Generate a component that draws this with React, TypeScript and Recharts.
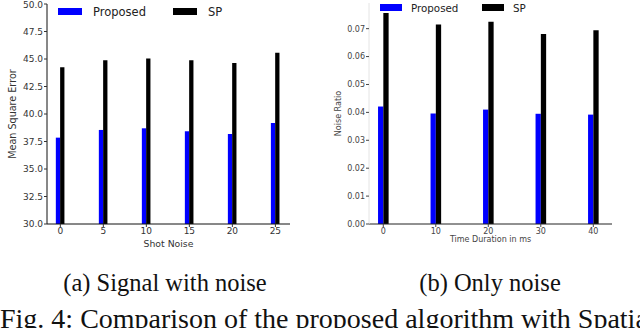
import { Bar, BarChart, Legend, XAxis, YAxis } from "recharts";

// (a) signal with noise
const shotNoise = [0, 5, 10, 15, 20, 25];
const mseProposed = [37.85, 38.55, 38.7, 38.43, 38.18, 39.18];
const mseSP = [44.25, 44.88, 45.05, 44.88, 44.63, 45.57];
const mseTicks = [30, 32.5, 35, 37.5, 40, 42.5, 45, 47.5, 50];

// (b) only noise
const durations = [0, 10, 20, 30, 40];
const ratioProposed = [0.0421, 0.0396, 0.041, 0.0395, 0.0392];
const ratioSP = [0.0756, 0.0715, 0.0725, 0.0681, 0.0694];
const ratioTicks = [0, 0.01, 0.02, 0.03, 0.04, 0.05, 0.06, 0.07];

const mseData = shotNoise.map((x, i) => ({ x, proposed: mseProposed[i], sp: mseSP[i] }));
const ratioData = durations.map((x, i) => ({ x, proposed: ratioProposed[i], sp: ratioSP[i] }));

const FONT = "DejaVu Sans";

const makeLegend =
  (o: { fontSize: number; patchW: number; patchH: number; gap: number; itemW: number }) =>
  (props: any) => (
    <div style={{ display: "flex", fontFamily: FONT, fontSize: o.fontSize, color: "#222", height: 15 }}>
      {(props.payload || []).map((entry: any) => (
        <div key={entry.value} style={{ display: "flex", alignItems: "center", width: o.itemW }}>
          <span
            style={{
              display: "inline-block",
              width: o.patchW,
              height: o.patchH,
              background: entry.color,
              marginRight: o.gap,
            }}
          />
          <span>{entry.value}</span>
        </div>
      ))}
    </div>
  );

const MseChart = () => (
  <BarChart
    width={320}
    height={250}
    data={mseData}
    margin={{ top: 4, right: 30, left: 0, bottom: 0 }}
    barGap={0}
    style={{ fontFamily: FONT }}
  >
    <XAxis
      dataKey="x"
      type="number"
      domain={[-1.55, 26.7]}
      allowDataOverflow
      ticks={shotNoise}
      height={26}
      tickSize={3}
      tickMargin={1}
      tick={{ fontSize: 9, fill: "#333" }}
      axisLine={{ stroke: "#111" }}
      tickLine={{ stroke: "#333" }}
      label={{ value: "Shot Noise", position: "insideBottom", offset: 3, fontSize: 9.3, fill: "#333" }}
    />
    <XAxis xAxisId="top" orientation="top" type="number" domain={[-1.55, 26.7]} height={0} tick={false} tickLine={false} axisLine={{ stroke: "#111" }} />
    <YAxis
      type="number"
      domain={[30, 50]}
      allowDataOverflow
      ticks={mseTicks}
      width={47}
      tickSize={3}
      tickMargin={1}
      tickFormatter={(v: number) => v.toFixed(1)}
      tick={{ fontSize: 9, fill: "#333" }}
      axisLine={{ stroke: "#111" }}
      tickLine={{ stroke: "#333" }}
      label={{
        value: "Mean Square Error",
        angle: -90,
        position: "insideLeft",
        offset: 13,
        fontSize: 9.6,
        fill: "#333",
        style: { textAnchor: "middle" },
      }}
    />
    <YAxis yAxisId="right" orientation="right" width={0} tick={false} tickLine={false} axisLine={{ stroke: "#111" }} />
    <Legend
      layout="horizontal"
      verticalAlign="middle"
      align="center"
      wrapperStyle={{ top: 4, left: 58, width: "auto", height: "auto" }}
      content={makeLegend({ fontSize: 11.5, patchW: 24, patchH: 7, gap: 11, itemW: 115 })}
    />
    <Bar dataKey="proposed" name="Proposed" fill="#0000ff" barSize={4.3} isAnimationActive={false} />
    <Bar dataKey="sp" name="SP" fill="#000000" barSize={4.3} isAnimationActive={false} />
  </BarChart>
);

const RatioChart = () => (
  <BarChart
    width={320}
    height={250}
    data={ratioData}
    margin={{ top: 3, right: 28, left: 0, bottom: 0 }}
    barGap={0}
    style={{ fontFamily: FONT }}
  >
    <XAxis
      dataKey="x"
      type="number"
      domain={[-2.72, 43.56]}
      allowDataOverflow
      ticks={durations}
      height={26}
      tickSize={3}
      tickMargin={1}
      tick={{ fontSize: 8, fill: "#444" }}
      axisLine={{ stroke: "#222" }}
      tickLine={{ stroke: "#444" }}
      label={{ value: "Time Duration in ms", position: "insideBottom", offset: 8, fontSize: 8, fill: "#444" }}
    />
    <XAxis xAxisId="top" orientation="top" type="number" domain={[-2.72, 43.56]} height={0} tick={false} tickLine={false} axisLine={{ stroke: "#222" }} />
    <YAxis
      type="number"
      domain={[0, 0.0792]}
      allowDataOverflow
      ticks={ratioTicks}
      width={49}
      tickSize={3}
      tickMargin={1}
      tickFormatter={(v: number) => v.toFixed(2)}
      tick={{ fontSize: 8, fill: "#444" }}
      axisLine={{ stroke: "#e4e4e4" }}
      tickLine={{ stroke: "#444" }}
      label={{
        value: "Noise Ratio",
        angle: -90,
        position: "insideLeft",
        offset: 18,
        fontSize: 8,
        fill: "#444",
        style: { textAnchor: "middle" },
      }}
    />
    <YAxis yAxisId="right" orientation="right" width={0} tick={false} tickLine={false} axisLine={{ stroke: "#e4e4e4" }} />
    <Legend
      layout="horizontal"
      verticalAlign="middle"
      align="center"
      wrapperStyle={{ top: 0, left: 60, width: "auto", height: "auto" }}
      content={makeLegend({ fontSize: 10.3, patchW: 22, patchH: 7.5, gap: 9, itemW: 102 })}
    />
    <Bar dataKey="proposed" name="Proposed" fill="#0000ff" barSize={5.3} isAnimationActive={false} />
    <Bar dataKey="sp" name="SP" fill="#000000" barSize={5.3} isAnimationActive={false} />
  </BarChart>
);

export default function App() {
  return (
    <div
      style={{
        position: "absolute",
        left: 0,
        top: 0,
        width: 640,
        height: 328,
        overflow: "hidden",
        background: "#fff",
      }}
    >
      <div style={{ position: "absolute", left: 0, top: 0 }}>
        <MseChart />
      </div>
      <div style={{ position: "absolute", left: 320, top: 0 }}>
        <RatioChart />
      </div>
      <svg width={640} height={328} style={{ position: "absolute", left: 0, top: 0, pointerEvents: "none" }}>
        <g fontFamily="Liberation Serif" fill="#111">
          <text x={165} y={291} fontSize={24.5} textAnchor="middle">
            (a) Signal with noise
          </text>
          <text x={490} y={291} fontSize={24.5} textAnchor="middle">
            (b) Only noise
          </text>
          <text x={0} y={328} fontSize={28}>
            Fig. 4: Comparison of the proposed algorithm with Spatial
          </text>
        </g>
      </svg>
    </div>
  );
}
